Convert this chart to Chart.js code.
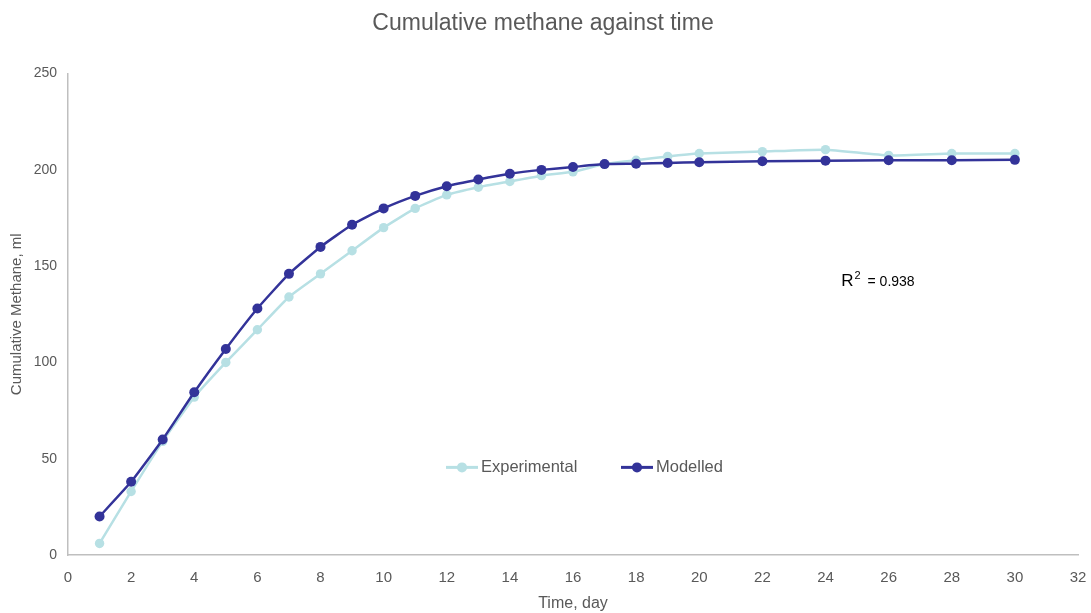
<!DOCTYPE html>
<html>
<head>
<meta charset="utf-8">
<script src="https://cdn.jsdelivr.net/npm/chart.js@4"></script>
<style>
  html, body { margin: 0; padding: 0; background: #fff; }
  #wrap { width: 1091px; height: 613px; }
</style>
</head>
<body>
<div id="wrap"><canvas id="chart" width="1091" height="613"></canvas></div>
<script>
// Data
var days = [1, 2, 3, 4, 5, 6, 7, 8, 9, 10, 11, 12, 13, 14, 15, 16, 17, 18, 19, 20, 22, 24, 26, 28, 30];
var experimental = [6, 33, 59, 82, 100, 117, 134, 146, 158, 170, 180, 187, 191, 194, 197, 199, 203, 205, 207, 208.5, 209.5, 210.5, 207.5, 208.5, 208.5];
var modelled = [20, 38, 60, 84.5, 107, 128, 146, 160, 171.5, 180, 186.5, 191.5, 195, 198, 200, 201.5, 203, 203.2, 203.6, 204, 204.5, 204.8, 205, 205, 205.2];
var xTicks = [0, 2, 4, 6, 8, 10, 12, 14, 16, 18, 20, 22, 24, 26, 28, 30, 32];
var yTicks = [0, 50, 100, 150, 200, 250];
var r2 = '0.938';

var grey = '#595959';
var expColor = '#b7e0e4';
var modColor = '#333399';

function toPoints(xs, ys) {
    return xs.map(function(x, i) { return { x: x, y: ys[i] }; });
}

// legend inside the plot + R² note
var extras = {
    id: 'extras',
    afterDraw: function(chart) {
        var ctx = chart.ctx;
        var xs = chart.scales.x, ys = chart.scales.y;
        ctx.save();
        // legend
        var ly = ys.getPixelForValue(45.5);
        var items = [
            { label: 'Experimental', color: expColor, x: 446 },
            { label: 'Modelled', color: modColor, x: 621 }
        ];
        items.forEach(function(it) {
            ctx.strokeStyle = it.color;
            ctx.lineWidth = 3;
            ctx.beginPath();
            ctx.moveTo(it.x, ly);
            ctx.lineTo(it.x + 32, ly);
            ctx.stroke();
            ctx.fillStyle = it.color;
            ctx.beginPath();
            ctx.arc(it.x + 16, ly, 5, 0, Math.PI * 2);
            ctx.fill();
            ctx.fillStyle = grey;
            ctx.font = '16.5px "Liberation Sans", Arial, sans-serif';
            ctx.textBaseline = 'middle';
            ctx.textAlign = 'left';
            ctx.fillText(it.label, it.x + 35, ly);
        });
        // R² text
        var rx = xs.getPixelForValue(24.5);
        var ry = ys.getPixelForValue(142);
        ctx.fillStyle = '#000';
        ctx.textBaseline = 'middle';
        ctx.font = '17px "Liberation Sans", Arial, sans-serif';
        ctx.fillText('R', rx, ry);
        var w = ctx.measureText('R').width;
        ctx.font = '11px "Liberation Sans", Arial, sans-serif';
        ctx.fillText('2', rx + w + 1, ry - 6);
        ctx.font = '14px "Liberation Sans", Arial, sans-serif';
        ctx.fillText('= ' + r2, rx + w + 14, ry + 1);
        ctx.restore();
    }
};

var ctx = document.getElementById('chart').getContext('2d');
var chart = new Chart(ctx, {
    type: 'line',
    data: {
        datasets: [{
            label: 'Modelled',
            data: toPoints(days, modelled),
            borderColor: modColor,
            backgroundColor: modColor,
            borderWidth: 2.5,
            pointRadius: 5,
            pointHoverRadius: 5,
            pointBorderWidth: 0,
            tension: 0.15,
            order: 0
        }, {
            label: 'Experimental',
            data: toPoints(days, experimental),
            borderColor: expColor,
            backgroundColor: expColor,
            borderWidth: 2.5,
            pointRadius: 4.7,
            pointHoverRadius: 4.7,
            pointBorderWidth: 0,
            tension: 0.15,
            order: 1
        }]
    },
    options: {
        responsive: false,
        animation: false,
        layout: { padding: { left: 8, right: 13, top: 0, bottom: 0 } },
        plugins: {
            legend: { display: false },
            tooltip: { enabled: false },
            title: {
                display: true,
                text: 'Cumulative methane against time',
                color: grey,
                font: { family: '"Liberation Sans", Arial, sans-serif', size: 23, weight: 'normal' },
                padding: { top: 10, bottom: 36 }
            }
        },
        scales: {
            x: {
                type: 'linear',
                min: 0,
                max: 32,
                afterBuildTicks: function(s) { s.ticks = xTicks.map(function(v) { return { value: v }; }); },
                afterFit: function(s) { s.height = 58; s.paddingRight = 0; s.paddingLeft = 0; },
                grid: { display: false, drawTicks: false },
                border: { display: true, color: '#bfbfbf', width: 1.5 },
                ticks: {
                    color: grey,
                    padding: 14,
                    maxRotation: 0,
                    font: { family: '"Liberation Sans", Arial, sans-serif', size: 15 }
                },
                title: {
                    display: true,
                    text: 'Time, day',
                    color: grey,
                    font: { family: '"Liberation Sans", Arial, sans-serif', size: 16 },
                    padding: { top: 0, bottom: 0 }
                }
            },
            y: {
                min: 0,
                max: 250,
                afterBuildTicks: function(s) { s.ticks = yTicks.map(function(v) { return { value: v }; }); },
                afterFit: function(s) { s.width = 60; },
                grid: { display: false, drawTicks: false },
                border: { display: true, color: '#bfbfbf', width: 1.5 },
                ticks: {
                    color: grey,
                    padding: 11,
                    font: { family: '"Liberation Sans", Arial, sans-serif', size: 14 }
                },
                title: {
                    display: true,
                    text: 'Cumulative Methane, ml',
                    color: grey,
                    font: { family: '"Liberation Sans", Arial, sans-serif', size: 15 },
                    padding: { top: 0, bottom: 4 }
                }
            }
        }
    },
    plugins: [extras]
});
</script>
</body>
</html>
